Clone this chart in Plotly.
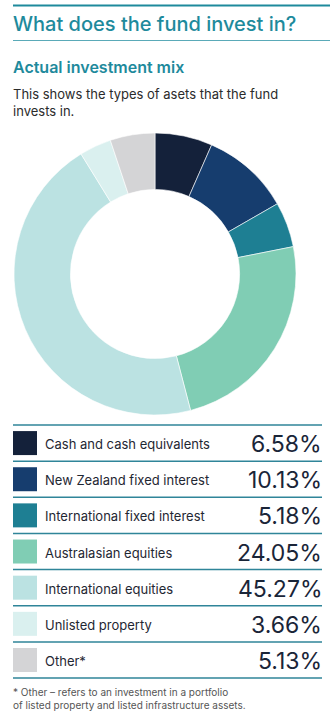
import plotly.graph_objects as go

W, H = 330, 714

categories = ["Cash and cash equivalents", "New Zealand fixed interest", "International fixed interest",
              "Australasian equities", "International equities", "Unlisted property", "Other*"]
values = [6.58, 10.13, 5.18, 24.05, 45.27, 3.66, 5.13]
colors = ["#14213a", "#163d6e", "#1e7f93", "#80cdb4", "#bbe2e2", "#daf0ef", "#d4d4d6"]

TEAL = "#1e8a9c"
FONT = "Inter"

def py(y):
    return 1 - y / H

def px(x):
    return x / W

fig = go.Figure()

cx, cy, R = 155, 274, 141
fig.add_trace(go.Pie(
    labels=categories, values=values, sort=False, direction="clockwise", rotation=0,
    hole=0.6, marker=dict(colors=colors, line=dict(color="white", width=0.6)),
    textinfo="none", hoverinfo="label+percent", showlegend=False,
    domain=dict(x=[px(cx - R), px(cx + R)], y=[py(cy + R), py(cy - R)]),
))

shapes = []
annotations = []

# header lines
shapes.append(dict(type="line", xref="paper", yref="paper", x0=px(13), x1=1, y0=py(5.5), y1=py(5.5),
                   line=dict(color=TEAL, width=2)))
shapes.append(dict(type="line", xref="paper", yref="paper", x0=px(13), x1=1, y0=py(40.5), y1=py(40.5),
                   line=dict(color="#5aaab8", width=1)))

annotations.append(dict(text="What does the fund invest in?", x=px(11), y=py(24), xref="paper", yref="paper",
                        xanchor="left", yanchor="middle", showarrow=False,
                        font=dict(family=FONT, size=20, color=TEAL, weight=500)))
annotations.append(dict(text="Actual investment mix", x=px(11), y=py(67), xref="paper", yref="paper",
                        xanchor="left", yanchor="middle", showarrow=False,
                        font=dict(family=FONT, size=16, color=TEAL, weight=600)))
annotations.append(dict(text="This shows the types of asets that the fund<br>invests in.", x=px(11), y=py(84),
                        xref="paper", yref="paper", xanchor="left", yanchor="top", align="left", showarrow=False,
                        font=dict(family=FONT, size=13, color="#2b2b2b")))

# table
top = 425
step = 36.15
for i, (cat, val, col) in enumerate(zip(categories, values, colors)):
    y0 = top + i * step
    shapes.append(dict(type="line", xref="paper", yref="paper", x0=px(13), x1=px(322), y0=py(y0), y1=py(y0),
                       line=dict(color="#2f8599", width=1.5)))
    mid = y0 + step / 2
    shapes.append(dict(type="rect", xref="paper", yref="paper", x0=px(13), x1=px(37),
                       y0=py(mid - 12), y1=py(mid + 12), fillcolor=col, line=dict(width=0)))
    annotations.append(dict(text=cat, x=px(43), y=py(mid + 1), xref="paper", yref="paper",
                            xanchor="left", yanchor="middle", showarrow=False,
                            font=dict(family=FONT, size=13, color="#1f2733")))
    annotations.append(dict(text=f"{val:.2f}%", x=px(324), y=py(mid + 1), xref="paper", yref="paper",
                            xanchor="right", yanchor="middle", showarrow=False,
                            font=dict(family=FONT, size=23, color="#1a2538", weight=400)))
yl = top + len(categories) * step
shapes.append(dict(type="line", xref="paper", yref="paper", x0=px(13), x1=px(322), y0=py(yl), y1=py(yl),
                   line=dict(color="#2f8599", width=1.5)))

annotations.append(dict(text="* Other \u2013 refers to an investment in a portfolio<br>of listed property and listed infrastructure assets.",
                        x=px(11), y=py(684), xref="paper", yref="paper", xanchor="left", yanchor="top",
                        align="left", showarrow=False, font=dict(family=FONT, size=10, color="#555555")))

fig.update_layout(width=W, height=H, margin=dict(l=0, r=0, t=0, b=0), paper_bgcolor="white",
                  plot_bgcolor="white", shapes=shapes, annotations=annotations)

fig.write_html("out.html", config={"displayModeBar": False})
